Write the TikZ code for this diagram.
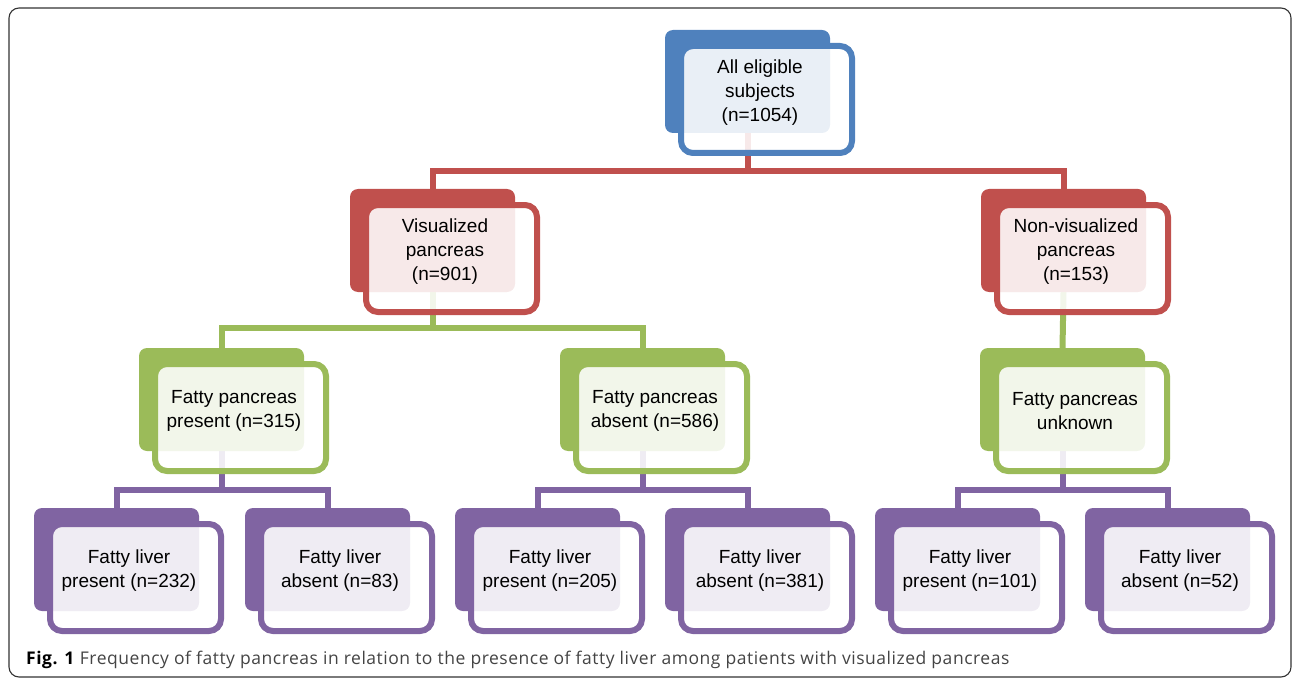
\documentclass[tikz,border=0pt]{standalone}
\usepackage{fontspec}
\setmainfont{Liberation Sans}
\newfontfamily\capfont[LetterSpace=3]{Open Sans}
\usepackage{tikz}
\usetikzlibrary{positioning, calc, backgrounds}
\definecolor{chartblue}{HTML}{4F81BD}
\definecolor{chartred}{HTML}{C0504D}
\definecolor{chartgreen}{HTML}{9BBB59}
\definecolor{chartpurple}{HTML}{8064A2}
\definecolor{capgray}{HTML}{444444}

% back slab + open front card + text, placed by the slab's top-left corner
\newcommand{\stackbox}[5]{%
  \node[backbox, fill=#4] (#1-b) at (#2+82.5, #3+51.5) {};
  \node[frontbox, draw=#4] (#1-f) at (#2+101.5, #3+69.5) {};
  \node[boxtext] (#1) at (#2+95, #3+63) {#5};
}

\begin{document}
\begin{tikzpicture}[
  x=1pt, y=-1pt,
  backbox/.style={rectangle, rounded corners=8pt, draw=none,
                  minimum width=165pt, minimum height=103pt, inner sep=0pt},
  frontbox/.style={rectangle, rounded corners=12pt, line width=6pt,
                   fill=white, fill opacity=0.88,
                   minimum width=171pt, minimum height=107pt, inner sep=0pt},
  boxtext/.style={align=center, font=\fontsize{19}{24}\selectfont,
                  inner sep=0pt},
  link/.style={line width=6pt, #1}
]
\useasboundingbox (0,0) rectangle (1292,679);

% === Outer frame ===
\draw[line width=1.1pt, rounded corners=10pt, black!80] (9,8) rectangle (1291,677);

% === Boxes (slabs first, cards on top) ===
\stackbox{top}{665}{30}{chartblue}{All eligible\\subjects\\(n=1054)}

\stackbox{vis}{350}{189}{chartred}{Visualized\\pancreas\\(n=901)}
\stackbox{nvis}{981}{189}{chartred}{Non-visualized\\pancreas\\(n=153)}

\stackbox{fpp}{139}{348}{chartgreen}{Fatty pancreas\\present (n=315)}
\stackbox{fpa}{560}{348}{chartgreen}{Fatty pancreas\\absent (n=586)}
\stackbox{fpu}{980}{348}{chartgreen}{Fatty pancreas\\unknown}

\stackbox{flp1}{34}{508}{chartpurple}{Fatty liver\\present (n=232)}
\stackbox{fla1}{245}{508}{chartpurple}{Fatty liver\\absent (n=83)}
\stackbox{flp2}{455}{508}{chartpurple}{Fatty liver\\present (n=205)}
\stackbox{fla2}{665}{508}{chartpurple}{Fatty liver\\absent (n=381)}
\stackbox{flp3}{875}{508}{chartpurple}{Fatty liver\\present (n=101)}
\stackbox{fla3}{1085}{508}{chartpurple}{Fatty liver\\absent (n=52)}

% === Connectors (drawn behind the boxes) ===
\begin{pgfonlayer}{background}
\draw[link=chartred] (top-b.south) -- ++(0,38) -| (vis-b.north);
\draw[link=chartred] (top-b.south) -- ++(0,38) -| (nvis-b.north);

\draw[link=chartgreen] (vis-b.south) -- ++(0,36) -| (fpp-b.north);
\draw[link=chartgreen] (vis-b.south) -- ++(0,36) -| (fpa-b.north);
\draw[link=chartgreen] (nvis-b.south) -- (fpu-b.north);

\draw[link=chartpurple] (fpp-b.south) -- ++(0,39) -| (flp1-b.north);
\draw[link=chartpurple] (fpp-b.south) -- ++(0,39) -| (fla1-b.north);
\draw[link=chartpurple] (fpa-b.south) -- ++(0,39) -| (flp2-b.north);
\draw[link=chartpurple] (fpa-b.south) -- ++(0,39) -| (fla2-b.north);
\draw[link=chartpurple] (fpu-b.south) -- ++(0,39) -| (flp3-b.north);
\draw[link=chartpurple] (fpu-b.south) -- ++(0,39) -| (fla3-b.north);
\end{pgfonlayer}

% === Caption ===
\node[anchor=base west, inner sep=0pt, font=\capfont\fontsize{17.5}{20}\selectfont,
      text=capgray] (caption) at (26,664)
  {\textcolor{black}{\textbf{Fig. 1}} Frequency of fatty pancreas in relation to the
   presence of fatty liver among patients with visualized pancreas};

\end{tikzpicture}
\end{document}
